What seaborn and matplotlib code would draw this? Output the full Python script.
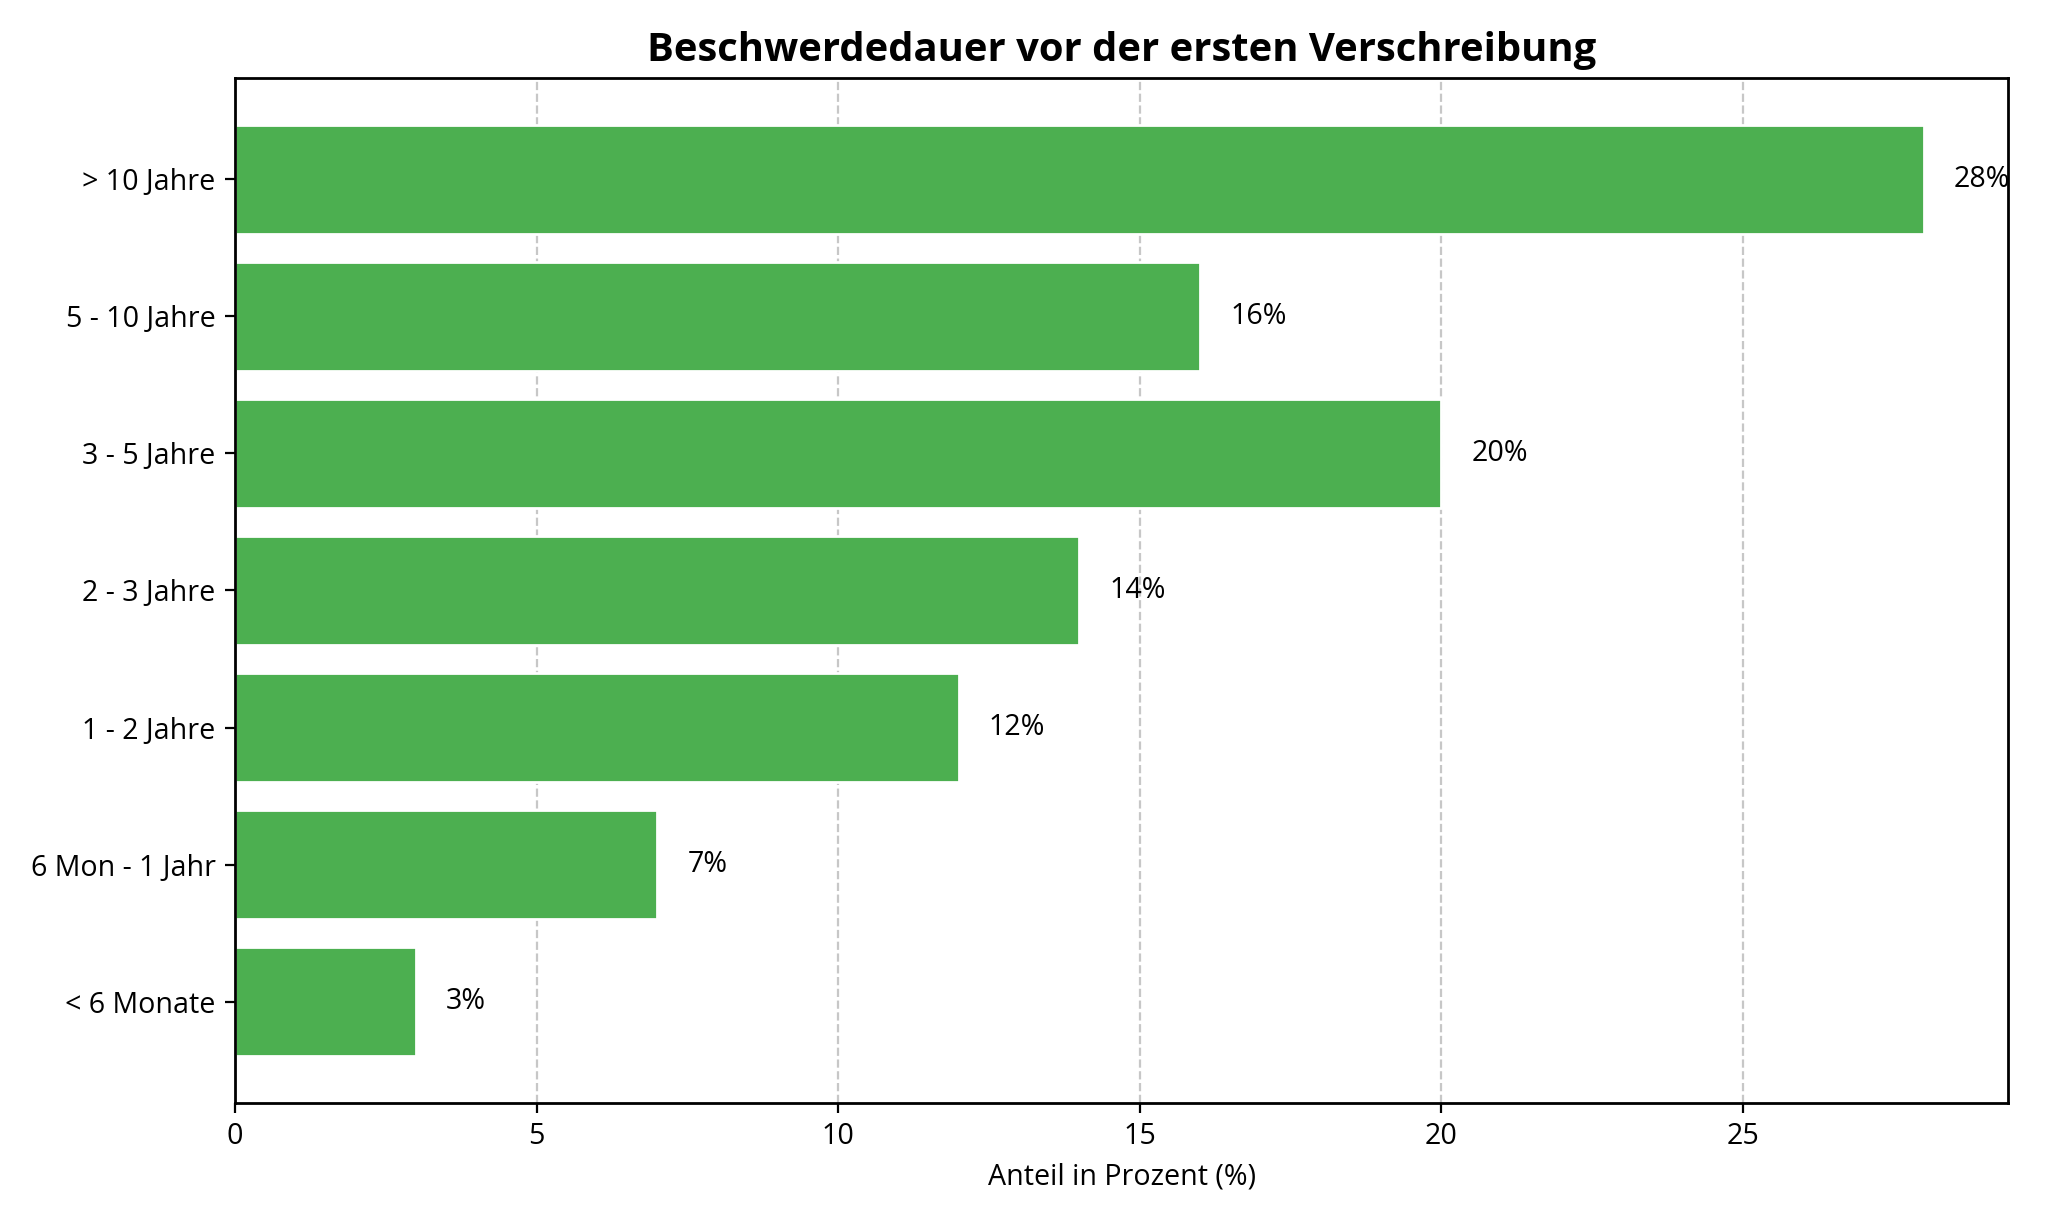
import pandas as pd
import seaborn as sns
import matplotlib.pyplot as plt

# Data
kategorien = ["> 10 Jahre", "5 - 10 Jahre", "3 - 5 Jahre", "2 - 3 Jahre",
              "1 - 2 Jahre", "6 Mon - 1 Jahr", "< 6 Monate"]
anteile = [28, 16, 20, 14, 12, 7, 3]

df = pd.DataFrame({"Dauer": kategorien, "Anteil": anteile})

sns.set_style("ticks")
plt.rcParams["font.family"] = ["Open Sans", "DejaVu Sans"]
plt.rcParams["text.color"] = "black"
plt.rcParams["axes.labelcolor"] = "black"
plt.rcParams["xtick.color"] = "black"
plt.rcParams["ytick.color"] = "black"

fig, ax = plt.subplots(figsize=(10.235, 6.14), dpi=200)
fig.subplots_adjust(left=0.1148, right=0.981, top=0.9365, bottom=0.1018)

sns.barplot(data=df, x="Anteil", y="Dauer", orient="h", color="#4CAF50",
            saturation=1, width=0.8, ax=ax, zorder=2)

# value labels next to bars (clipped by the axes like the original)
for i, v in enumerate(anteile):
    ax.text(v + 0.5, i, f"{v}%", va="center", ha="left", fontsize=10.3,
            color="black", clip_on=True)

ax.set_xlim(0, max(anteile) * 1.05)
ax.set_ylim(len(kategorien) - 1 + 0.74, -0.74)
ax.grid(axis="x", linestyle="--", color="#b0b0b0", alpha=0.7, zorder=0)
ax.set_axisbelow(True)
for s in ax.spines.values():
    s.set_visible(True)
    s.set_color("black")
    s.set_linewidth(1.0)

ax.set_title("Beschwerdedauer vor der ersten Verschreibung",
             fontsize=14.4, fontweight="bold", color="black")
ax.set_xlabel("Anteil in Prozent (%)", fontsize=10.3)
ax.set_ylabel("")
ax.tick_params(labelsize=10.3)

plt.savefig("out.png", dpi=200)
